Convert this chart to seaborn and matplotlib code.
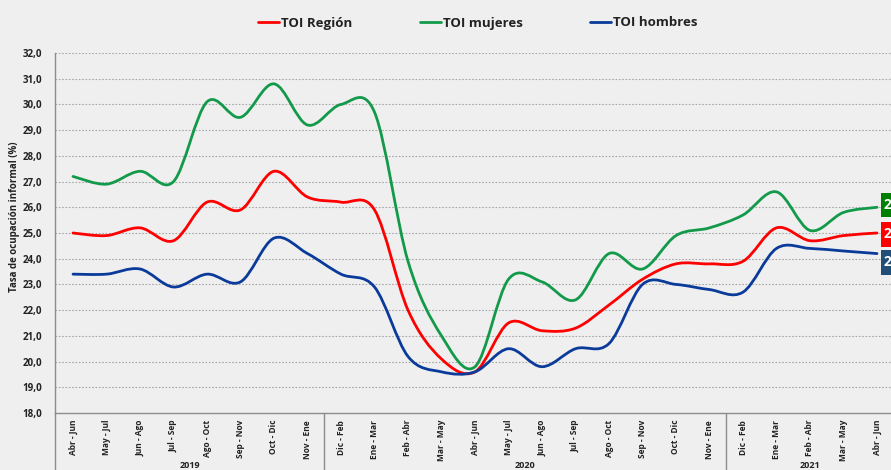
import numpy as np
import pandas as pd
import matplotlib
matplotlib.use("Agg")
import matplotlib.pyplot as plt
import matplotlib.transforms as mtransforms
from matplotlib.path import Path
from matplotlib.patches import PathPatch, Rectangle
from matplotlib.lines import Line2D
import seaborn as sns

# ---------------- data ----------------
periodos = ["Abr - Jun", "May - Jul", "Jun - Ago", "Jul - Sep", "Ago - Oct", "Sep - Nov",
            "Oct - Dic", "Nov - Ene", "Dic - Feb", "Ene - Mar", "Feb - Abr", "Mar - May",
            "Abr - Jun", "May - Jul", "Jun - Ago", "Jul - Sep", "Ago - Oct", "Sep - Nov",
            "Oct - Dic", "Nov - Ene", "Dic - Feb", "Ene - Mar", "Feb - Abr", "Mar - May",
            "Abr - Jun"]
anios = ["2019", "2020", "2021"]
anio_n = [8, 12, 5]

toi_region = [25.0, 24.9, 25.2, 24.7, 26.2, 25.9, 27.4, 26.4, 26.2, 25.9, 22.0, 20.1, 19.6,
              21.5, 21.2, 21.3, 22.2, 23.2, 23.8, 23.8, 23.9, 25.2, 24.7, 24.9, 25.0]
toi_mujeres = [27.2, 26.9, 27.4, 27.0, 30.1, 29.5, 30.8, 29.2, 30.0, 29.7, 23.9, 21.0, 19.8,
               23.2, 23.1, 22.4, 24.2, 23.6, 24.9, 25.2, 25.7, 26.6, 25.1, 25.8, 26.0]
toi_hombres = [23.4, 23.4, 23.6, 22.9, 23.4, 23.1, 24.8, 24.2, 23.4, 22.9, 20.2, 19.6, 19.6,
               20.5, 19.8, 20.5, 20.7, 23.0, 23.0, 22.8, 22.7, 24.4, 24.4, 24.3, 24.2]

series = ["TOI Región", "TOI mujeres", "TOI hombres"]
colores = {"TOI Región": "#FF0000", "TOI mujeres": "#129A4A", "TOI hombres": "#0A3A9A"}
etiquetas_fin = ["26,0", "25,0", "24,2"]
colores_fin = ["#008000", "#FF0000", "#1F4E79"]

BG = "#EFEFEF"

sns.set_theme(style="white")
plt.rcParams['font.family'] = ['Open Sans', 'DejaVu Sans']

df = pd.DataFrame({
    "idx": list(range(len(periodos))) * 3,
    "valor": toi_region + toi_mujeres + toi_hombres,
    "serie": [series[0]] * len(periodos) + [series[1]] * len(periodos) + [series[2]] * len(periodos),
})

W, H = 891, 470
fig = plt.figure(figsize=(W / 100, H / 100), dpi=100, facecolor=BG)
ax = fig.add_axes([55 / W, 1 - 413 / H, 1 - 55 / W, 360 / H])
ax.set_facecolor(BG)

sns.lineplot(data=df, x="idx", y="valor", hue="serie", hue_order=series,
             palette=colores, ax=ax, legend=False, linewidth=2)


def smooth_path(x, y):
    n = len(x)
    verts = [(x[0], y[0])]
    codes = [Path.MOVETO]
    for i in range(n - 1):
        p0 = i - 1 if i > 0 else i
        p3 = i + 2 if i + 2 < n else i + 1
        c1 = (x[i] + (x[i + 1] - x[p0]) / 6, y[i] + (y[i + 1] - y[p0]) / 6)
        c2 = (x[i + 1] - (x[p3] - x[i]) / 6, y[i + 1] - (y[p3] - y[i]) / 6)
        verts += [c1, c2, (x[i + 1], y[i + 1])]
        codes += [Path.CURVE4] * 3
    return Path(verts, codes)


for line in list(ax.lines):
    xy = line.get_xydata()
    col = line.get_color()
    line.remove()
    patch = PathPatch(smooth_path(xy[:, 0], xy[:, 1]), facecolor="none", edgecolor=col,
                      lw=2.0, capstyle="round", joinstyle="round", zorder=3)
    ax.add_patch(patch)

step = 33.5
ax.set_xlim((55 - 73) / step, (W - 73) / step)
ax.set_ylim(18, 32)
ax.set_yticks(np.arange(18, 32.1, 1))
ax.set_yticklabels([f"{v:.1f}".replace(".", ",") for v in np.arange(18, 32.1, 1)],
                   fontsize=7, fontweight="bold", color="#222222")
ax.set_xticks(range(len(periodos)))
ax.set_xticklabels(periodos, rotation=90, fontsize=6, fontweight="bold", color="#222222")
ax.tick_params(axis="both", length=0, pad=5)
ax.tick_params(axis="y", pad=9)
ax.set_xlabel("")
ax.set_ylabel("")

for v in np.arange(19, 32.1, 1):
    ax.axhline(v, color="#A8A8A8", lw=0.8, ls=(0, (1.5, 1.5)), zorder=1)

for s in ["top", "right"]:
    ax.spines[s].set_visible(False)
for s in ["left", "bottom"]:
    ax.spines[s].set_color("#8C8C8C")
    ax.spines[s].set_linewidth(1.0)

# year group separators and labels
trans = mtransforms.blended_transform_factory(ax.transData, ax.transAxes)
ybot = -(H - 413) / 360
bounds = [ax.get_xlim()[0]]
pos = -0.5
for n in anio_n:
    pos += n
    bounds.append(pos)
bounds[-1] = (894 - 73) / step
for b in bounds[:-1]:
    ax.add_line(Line2D([b, b], [0, ybot], transform=trans, color="#8C8C8C", lw=1.0, clip_on=False))
for i, a in enumerate(anios):
    xc = (bounds[i] + bounds[i + 1]) / 2
    ax.text(xc, -(465 - 413) / 360, a, transform=trans, ha="center", va="center",
            fontsize=6.5, fontweight="bold", color="#222222")

# y label
fig.text(15 / W, 1 - 217 / H, "Tasa de ocupación informal (%)", rotation=90,
         ha="center", va="center", fontsize=7, fontweight="bold", color="#222222")

# legend
handles = [Line2D([], [], color=colores[s], lw=2) for s in series]
leg = fig.legend(handles, series, loc="center", bbox_to_anchor=(478 / W, 1 - 23 / H), ncol=3,
                 frameon=False, handlelength=1.6, handletextpad=0.15, columnspacing=5.1,
                 prop={"size": 9.5, "weight": "bold"})
for t in leg.get_texts():
    t.set_color("#222222")

# end labels (clipped at right edge, as in the original)
box_y = [(193, 217), (222, 247), (250, 275)]
for (y0, y1), txt, c in zip(box_y, etiquetas_fin, colores_fin):
    fig.patches.append(Rectangle((881 / W, 1 - y1 / H), 30 / W, (y1 - y0) / H,
                                 transform=fig.transFigure, facecolor=c, edgecolor="none"))
    fig.text(884 / W, 1 - (y0 + y1) / 2 / H, txt, ha="left", va="center",
             fontsize=10, fontweight="bold", color="white")

fig.savefig("out.png", dpi=100, facecolor=BG)
